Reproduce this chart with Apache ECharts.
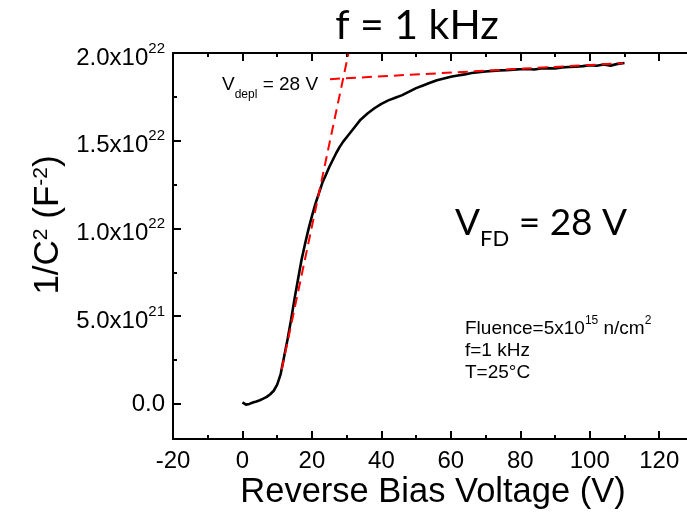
<!DOCTYPE html>
<html>
<head>
<meta charset="utf-8">
<script src="https://cdn.jsdelivr.net/npm/echarts@6/dist/echarts.min.js"></script>
<style>
html,body{margin:0;padding:0;background:#fff;}
#chart{width:687px;height:514px;}
</style>
</head>
<body>
<div id="chart"></div>
<script>
// Reverse bias voltage (V)
const voltage = [0,1,2,3,4,5,6,7,8,9,10,11,12,13,14,15,16,17,18,19,20,21,22,23,24,25,26,27,28,29,30,
  32,34,36,38,40,42,44,46,48,50,52,54,56,58,60,62,64,66,68,70,72,74,76,78,80,82,84,86,88,90,92,94,96,98,100,102,104,106,108,110];
// 1/C^2 in units of 1e22 F^-2
const invC2 = [0.009,-0.004,0.000,0.008,0.014,0.021,0.030,0.040,0.055,0.075,0.11,0.17,0.27,0.37,0.48,0.60,0.71,0.82,0.91,0.995,1.07,1.14,1.20,1.26,1.305,1.35,1.39,1.43,1.465,1.495,1.52,
  1.57,1.62,1.655,1.685,1.71,1.73,1.745,1.76,1.78,1.80,1.815,1.83,1.845,1.855,1.865,1.872,1.878,1.886,1.89,1.895,1.898,1.901,1.902,1.905,1.907,1.909,1.906,1.912,1.914,1.912,1.918,1.92,1.922,1.925,1.93,1.927,1.935,1.928,1.938,1.943];
// Linear fits (red dashed)
const fitSteepV = [11.3, 30.5];
const fitSteepY = [0.196, 1.996];
const fitFlatV = [25.2, 109.6];
const fitFlatY = [1.851, 1.942];
// Y tick values (units 1e22) and labels
const yTickValues = [0, 0.5, 1.0, 1.5, 2.0];
const yTickMantissa = ['0.0', '5.0x10', '1.0x10', '1.5x10', '2.0x10'];
const yTickExponent = ['', '21', '22', '22', '22'];
const yMinorValues = [0.25, 0.75, 1.25, 1.75];

const AR = 'Liberation Sans, Arial, sans-serif';
const CAL = 'Lato, sans-serif';

const chart = echarts.init(document.getElementById('chart'));

const tickStyle = {color:'#000', width:2};
const xCommon = {
  type:'value', min:-20, max:140, interval:20,
  axisLine:{show:true, onZero:false, lineStyle:{color:'#000', width:2}},
  axisTick:{show:true, inside:true, length:8, lineStyle:tickStyle},
  minorTick:{show:true, splitNumber:2, length:4, lineStyle:tickStyle},
  splitLine:{show:false}, minorSplitLine:{show:false}
};

const option = {
  backgroundColor:'#fff',
  animation:false,
  grid:{left:173, top:53, bottom:75, width:555.7, outerBoundsMode:'none', containLabel:false},
  xAxis:[
    Object.assign({}, xCommon, {position:'bottom',
      axisLabel:{show:true, fontSize:24, color:'#000', fontFamily:AR, margin:10, showMaxLabel:false}}),
    Object.assign({}, xCommon, {position:'top', axisLabel:{show:false}})
  ],
  yAxis:[
    {type:'value', position:'left', min:-0.2, max:2.0,
     axisLine:{show:true, onZero:false, lineStyle:{color:'#000', width:2}},
     axisTick:{show:true, inside:true, length:8, lineStyle:tickStyle, customValues:yTickValues},
     splitLine:{show:false},
     axisLabel:{show:true, margin:8, customValues:yTickValues,
       formatter:function(v){
         let idx = 0, best = 1e9;
         yTickValues.forEach((t,i)=>{ if(Math.abs(t-v)<best){best=Math.abs(t-v); idx=i;} });
         if(!yTickExponent[idx]) return '{z|' + yTickMantissa[idx] + '}';
         return '{m|' + yTickMantissa[idx] + '}{u|' + yTickExponent[idx] + '}';
       },
       rich:{
         z:{fontSize:24, lineHeight:24, fontFamily:AR, color:'#000'},
         m:{fontSize:24, lineHeight:24, fontFamily:AR, color:'#000', verticalAlign:'top', padding:[5,0,0,0]},
         u:{fontSize:15, lineHeight:15, fontFamily:AR, color:'#000', verticalAlign:'top'}
       }
     }
    },
    {type:'value', position:'left', min:-0.2, max:2.0,
     axisLine:{show:false, onZero:false},
     axisTick:{show:true, inside:true, length:4, lineStyle:tickStyle, customValues:yMinorValues},
     axisLabel:{show:false}, splitLine:{show:false}
    }
  ],
  series:[
    {type:'line', xAxisIndex:0, yAxisIndex:0, showSymbol:false, symbol:'none',
     data: voltage.map((v,i)=>[v, invC2[i]]),
     lineStyle:{color:'#000', width:2.6}, z:3},
    {type:'line', xAxisIndex:0, yAxisIndex:0, showSymbol:false, symbol:'none',
     data: fitSteepV.map((v,i)=>[v, fitSteepY[i]]),
     lineStyle:{color:'#ff0000', width:2, type:[10,6]}, z:4},
    {type:'line', xAxisIndex:0, yAxisIndex:0, showSymbol:false, symbol:'none',
     data: fitFlatV.map((v,i)=>[v, fitFlatY[i]]),
     lineStyle:{color:'#ff0000', width:2, type:[10,6]}, z:4}
  ],
  graphic:[
    {type:'text', x:417, y:26, style:{text:'f = 1 kHz', fontFamily:CAL, fontSize:41, fill:'#000', align:'center', verticalAlign:'middle'}},
    {type:'text', x:455, y:205, style:{text:'{v|V}{s|FD}{v| = 28 V}', fill:'#000', align:'left', verticalAlign:'top',
      rich:{v:{fontFamily:CAL, fontSize:37, lineHeight:37, verticalAlign:'top', fill:'#000'},
            s:{fontFamily:CAL, fontSize:22, lineHeight:22, verticalAlign:'top', padding:[23,0,0,0], fill:'#000'}}}},
    {type:'text', x:222, y:75, style:{text:'{v|V}{s|depl}{v| = 28 V}', fill:'#000', align:'left', verticalAlign:'top',
      rich:{v:{fontFamily:AR, fontSize:19, lineHeight:19, verticalAlign:'top', fill:'#000'},
            s:{fontFamily:AR, fontSize:12, lineHeight:12, verticalAlign:'top', padding:[14,0,0,0], fill:'#000'}}}},
    {type:'text', x:465, y:315, style:{text:'{m|Fluence=5x10}{u|15}{m| n/cm}{u|2}', fill:'#000', align:'left', verticalAlign:'top',
      rich:{m:{fontFamily:AR, fontSize:19, lineHeight:19, verticalAlign:'top', padding:[4,0,0,0], fill:'#000'},
            u:{fontFamily:AR, fontSize:12, lineHeight:12, verticalAlign:'top', fill:'#000'}}}},
    {type:'text', x:465, y:351, style:{text:'f=1 kHz', fontFamily:AR, fontSize:19, fill:'#000', align:'left', verticalAlign:'middle'}},
    {type:'text', x:465, y:373, style:{text:'T=25°C', fontFamily:AR, fontSize:19, fill:'#000', align:'left', verticalAlign:'middle'}},
    {type:'text', x:433, y:492, style:{text:'Reverse Bias Voltage (V)', fontFamily:AR, fontSize:34.5, fill:'#000', align:'center', verticalAlign:'middle'}},
    {type:'text', x:48, y:225, rotation:Math.PI/2, style:{text:'{m|1/C}{u|2}{m| (F}{u|-2}{m|)}', fill:'#000', align:'center', verticalAlign:'middle',
      rich:{m:{fontFamily:AR, fontSize:35, lineHeight:35, verticalAlign:'top', fill:'#000'},
            u:{fontFamily:AR, fontSize:21, lineHeight:21, verticalAlign:'top', fill:'#000'}}}}
  ]
};
chart.setOption(option);
</script>
</body>
</html>
